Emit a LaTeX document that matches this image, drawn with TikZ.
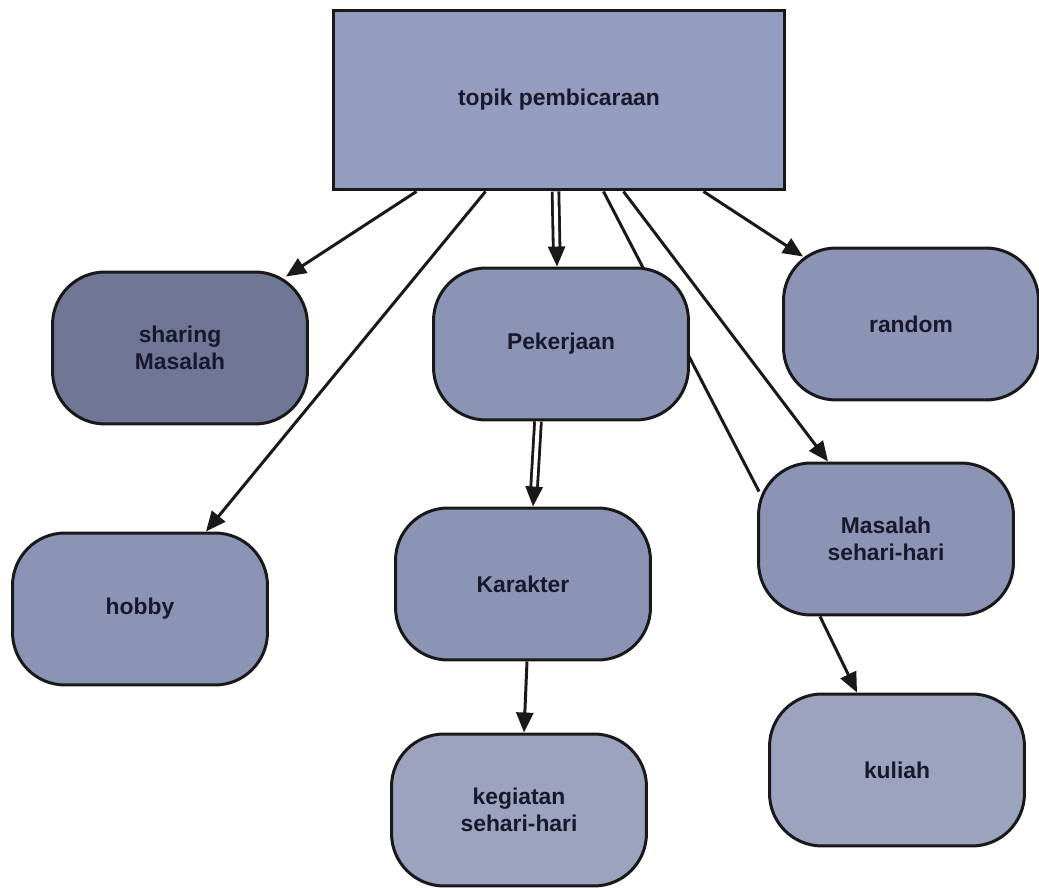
\documentclass[tikz,border=0pt]{standalone}
\usepackage{fontspec}
\setmainfont{Liberation Sans}
\usetikzlibrary{arrows.meta,backgrounds}
\definecolor{boxfill}{RGB}{140,148,182}
\definecolor{darkfill}{RGB}{112,118,150}
\definecolor{topfill}{RGB}{148,156,192}
\definecolor{lightfill}{RGB}{155,163,190}
\definecolor{txt}{RGB}{25,25,45}
\begin{document}
\begin{tikzpicture}[x=0.02cm,y=-0.02cm,
  box/.style={draw=black!90, line width=1.7pt, rounded corners=1.05cm, fill=boxfill,
    minimum width=5.1cm, minimum height=3.04cm, align=center,
    font=\fontsize{13}{15}\selectfont\bfseries, text=txt},
  topbox/.style={box, rounded corners=0pt, fill=topfill, minimum width=9.04cm, minimum height=3.6cm},
  conn/.style={line width=1.7pt, draw=black!90, -{Triangle[length=0.4cm,width=0.34cm]}},
  dbl/.style={conn, double=white, double distance=2.2pt, line width=1.6pt},
  plain/.style={line width=1.7pt, draw=black!90}]
\useasboundingbox (0,0) rectangle (1039,888);

\node[topbox] (top) at (559,100) {topik pembicaraan};
\node[box, fill=darkfill] (sharing) at (180,348) {sharing\\Masalah};
\node[box] (hobby) at (140,609) {hobby};
\node[box] (pek) at (561,344) {Pekerjaan};
\node[box] (kar) at (523,584) {Karakter};
\node[box, fill=lightfill] (keg) at (519,810) {kegiatan\\sehari-hari};
\node[box] (random) at (911,324) {random};
\node[box] (mss) at (886,539) {Masalah\\sehari-hari};
\node[box, fill=lightfill] (kuliah) at (897,770) {kuliah};

\draw[conn] ([xshift=1.7cm]top.south west) -- ([shift={(-0.46cm,-0.12cm)}]sharing.north east);
\draw[conn] ([xshift=3.08cm]top.south west) -- ([xshift=-1.26cm]hobby.north east);
\draw[dbl] ([xshift=4.48cm]top.south west) -- ([xshift=-0.08cm]pek.north);
\begin{scope}[on background layer]
\draw[plain] ([xshift=5.44cm]top.south west) -- ([shift={(0.04cm,-0.6cm)}]mss.north west);
\end{scope}
\draw[conn] ([xshift=5.84cm]top.south west) -- ([xshift=-1.16cm]mss.north);
\draw[conn] ([xshift=7.44cm]top.south west) -- ([shift={(0.42cm,-0.2cm)}]random.north west);
\draw[dbl] ([xshift=-0.46cm]pek.south) -- ([xshift=0.2cm]kar.north);
\draw[conn] ([xshift=0.08cm]kar.south) -- ([xshift=0.1cm]keg.north);
\draw[conn] ([xshift=-1.32cm]mss.south) -- ([xshift=-0.8cm]kuliah.north);
\end{tikzpicture}
\end{document}
